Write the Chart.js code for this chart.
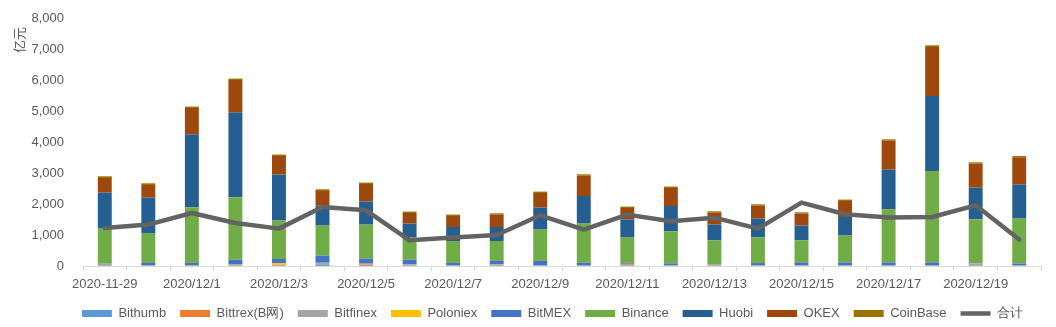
<!DOCTYPE html>
<html>
<head>
<meta charset="utf-8">
<script src="https://cdn.jsdelivr.net/npm/chart.js@4/dist/chart.umd.min.js"></script>
<style>
  html, body { margin: 0; padding: 0; background: #ffffff; }
  #wrap { position: relative; width: 1056px; height: 327px; }
</style>
</head>
<body>
<div id="wrap"><canvas id="c"></canvas></div>
<script>
// Daily exchange volume, 亿元
const categories = [
  '2020-11-29', '2020/11/30', '2020/12/1', '2020/12/2', '2020/12/3', '2020/12/4',
  '2020/12/5', '2020/12/6', '2020/12/7', '2020/12/8', '2020/12/9', '2020/12/10',
  '2020/12/11', '2020/12/12', '2020/12/13', '2020/12/14', '2020/12/15', '2020/12/16',
  '2020/12/17', '2020/12/18', '2020/12/19', '2020/12/20'
];

const bithumb  = [5, 3, 3, 5, 5, 30, 5, 5, 3, 5, 3, 3, 5, 3, 5, 3, 3, 3, 3, 3, 5, 10];
const bittrex  = [5, 2, 2, 5, 15, 5, 40, 5, 2, 5, 2, 2, 20, 2, 5, 2, 2, 2, 2, 2, 5, 2];
const bitfinex = [60, 15, 15, 50, 15, 70, 30, 45, 15, 45, 15, 10, 40, 15, 50, 15, 15, 15, 15, 15, 75, 10];
const poloniex = [0, 0, 0, 0, 50, 0, 0, 0, 0, 0, 0, 0, 5, 0, 0, 0, 0, 0, 0, 0, 0, 0];
const bitmex   = [10, 80, 80, 145, 140, 230, 160, 150, 80, 110, 145, 90, 30, 65, 5, 75, 95, 95, 95, 95, 5, 60];
const binance  = [1126, 945, 1784, 2011, 1240, 968, 1100, 711, 706, 641, 1009, 1263, 816, 1034, 764, 831, 714, 866, 1714, 2950, 1416, 1447];
const huobi    = [1162, 1161, 2355, 2732, 1483, 645, 742, 452, 452, 452, 710, 890, 581, 816, 506, 603, 474, 600, 1281, 2419, 1023, 1097];
const okex     = [471, 407, 858, 1052, 600, 471, 568, 342, 355, 400, 471, 658, 374, 581, 388, 419, 387, 516, 935, 1581, 774, 880];
const coinbase = [55, 55, 45, 45, 46, 55, 45, 45, 45, 42, 45, 42, 45, 45, 42, 42, 42, 45, 42, 54, 42, 42];
const total    = [1226, 1335, 1710, 1387, 1206, 1903, 1797, 829, 916, 1000, 1635, 1174, 1658, 1442, 1560, 1206, 2045, 1668, 1561, 1581, 1958, 852];

const yTicks = [0, 1000, 2000, 3000, 4000, 5000, 6000, 7000, 8000];
const yUnit = '亿元';

const FONT = '"Liberation Sans", Arial, sans-serif';
const TEXT = '#595959';

const barSeries = [
  ['Bithumb', bithumb, '#5B9BD5'],
  ['Bittrex(B网)', bittrex, '#ED7D31'],
  ['Bitfinex', bitfinex, '#A5A5A5'],
  ['Poloniex', poloniex, '#FFC000'],
  ['BitMEX', bitmex, '#4472C4'],
  ['Binance', binance, '#70AD47'],
  ['Huobi', huobi, '#255E91'],
  ['OKEX', okex, '#9E480E'],
  ['CoinBase', coinbase, '#997300']
];

const datasets = barSeries.map(([label, data, color]) => ({
  type: 'bar',
  label,
  data,
  backgroundColor: color,
  borderWidth: 0,
  stack: 'ex',
  order: 1,
  barPercentage: 0.32,
  categoryPercentage: 1.0
}));

datasets.push({
  type: 'line',
  label: '合计',
  data: total,
  borderColor: '#636363',
  backgroundColor: '#636363',
  borderWidth: 4.5,
  borderCapStyle: 'round',
  borderJoinStyle: 'round',
  pointRadius: 0,
  tension: 0,
  stack: 'sum',
  order: 0
});

// nudge the legend row to the right of the canvas centre
const legendShift = {
  id: 'legendShift',
  afterLayout(chart) {
    if (chart.legend) {
      chart.legend.left += 28;
      chart.legend.right += 28;
    }
  }
};

// unit caption of the value axis, rotated, near the top of the axis
const unitCaption = {
  id: 'unitCaption',
  afterDraw(chart) {
    const { ctx, chartArea } = chart;
    ctx.save();
    ctx.translate(19, chartArea.top + 22);
    ctx.rotate(-Math.PI / 2);
    ctx.font = '13px "Noto Sans CJK SC", sans-serif';
    ctx.fillStyle = TEXT;
    ctx.textAlign = 'center';
    ctx.textBaseline = 'middle';
    ctx.fillText(yUnit, 0, 0);
    ctx.restore();
  }
};

new Chart(document.getElementById('c'), {
  data: { labels: categories, datasets },
  plugins: [legendShift, unitCaption],
  options: {
    responsive: true,
    maintainAspectRatio: false,
    animation: false,
    layout: { padding: { left: 8, right: 15, top: 18, bottom: -3 } },
    plugins: {
      tooltip: { enabled: false },
      legend: {
        position: 'bottom',
        labels: {
          font: { family: FONT, size: 13 },
          color: TEXT,
          padding: 14,
          boxHeight: 7,
          usePointStyle: true,
          pointStyleWidth: 30,
          sort: (a, b) => a.datasetIndex - b.datasetIndex,
          generateLabels(chart) {
            const items = Chart.defaults.plugins.legend.labels.generateLabels(chart);
            items.forEach(it => {
              const ds = chart.data.datasets[it.datasetIndex];
              if (ds.type === 'line') {
                it.pointStyle = 'line';
                it.lineWidth = 4.5;
                it.strokeStyle = ds.borderColor;
                it.lineCap = 'butt';
              } else {
                it.pointStyle = 'rect';
                it.lineWidth = 0;
                it.fillStyle = ds.backgroundColor;
              }
            });
            return items;
          }
        }
      }
    },
    scales: {
      x: {
        stacked: true,
        offset: true,
        afterFit: (scale) => { scale.height = 27; },
        grid: {
          display: true,
          offset: true,
          drawOnChartArea: false,
          drawTicks: true,
          tickLength: 5,
          color: '#d9d9d9'
        },
        border: { display: true, color: '#d9d9d9', width: 1 },
        ticks: {
          autoSkip: false,
          maxRotation: 0,
          minRotation: 0,
          padding: 6,
          color: TEXT,
          font: { family: FONT, size: 13 },
          callback: (v, i) => (i % 2 === 0 ? categories[i] : '')
        }
      },
      y: {
        stacked: true,
        min: yTicks[0],
        max: yTicks[yTicks.length - 1],
        afterBuildTicks: (scale) => { scale.ticks = yTicks.map(v => ({ value: v })); },
        afterFit: (scale) => {
          scale.width = 75;
          scale.paddingTop = 7;
          scale.paddingBottom = 7;
        },
        grid: { display: false, drawTicks: false },
        border: { display: false },
        ticks: {
          padding: 19,
          color: TEXT,
          font: { family: FONT, size: 13 },
          callback: (v) => Number(v).toLocaleString('en-US')
        }
      }
    }
  }
});
</script>
</body>
</html>
